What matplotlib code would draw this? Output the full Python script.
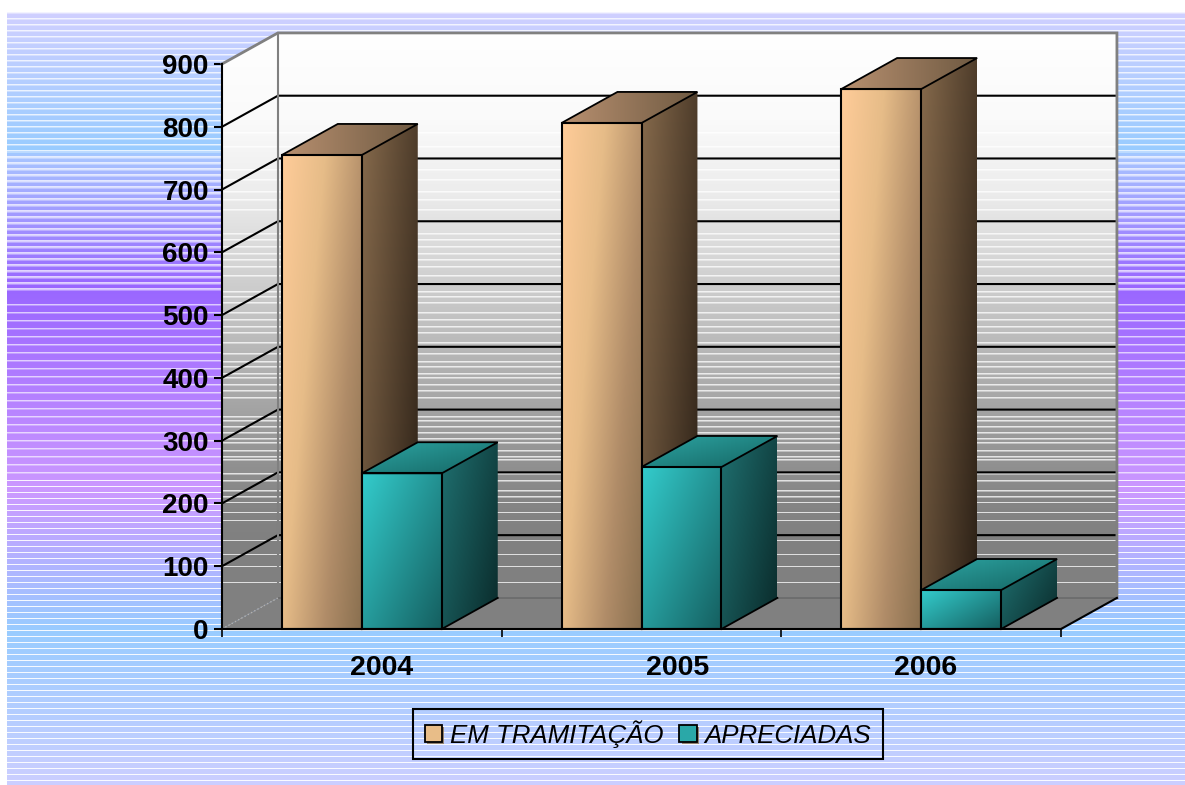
import numpy as np
from matplotlib import pyplot as plt
from matplotlib import patheffects as pe
from matplotlib.colors import to_rgb
from matplotlib.patches import Patch, Polygon

# Data
years = ['2004', '2005', '2006']
em_tramitacao = [755, 806, 860]
apreciadas = [248, 258, 62]
series_names = ['EM TRAMITAÇÃO', 'APRECIADAS']
y_ticks = [0, 100, 200, 300, 400, 500, 600, 700, 800, 900]

# Layout, pixels of the 1185x785 picture
W, H = 1185, 785
left, right, top, bottom = 222, 1061, 64, 629
depth_x, depth_y = 0.2, 49.5  # depth of the fake 3D box, in data units
bar_w = 0.286
label_x = [0.572, 1.63, 2.517]

plt.rcParams['font.family'] = ['Liberation Sans', 'DejaVu Sans']

fig = plt.figure(figsize=(W / 100, H / 100), dpi=100, facecolor='white')


def ramp(y, stops):
    ys = [s[0] for s in stops]
    rgb = np.array([to_rgb(s[1]) for s in stops])
    return np.stack([np.interp(y, ys, rgb[:, i]) for i in range(3)], axis=-1)


#region: Striped background
rows = np.arange(12, H)
bg_stops = [(12, '#d0d0ff'), (150, '#99ccff'), (156, '#a8c4ff'), (285, '#9966ff'), (330, '#a470ff'),
            (490, '#cc99ff'), (630, '#99ccff'), (785, '#cccfff')]
bg = ramp(rows, bg_stops)
for i, y in enumerate(rows):
    if y < 152:
        a = {0: 0.75, 1: 0.35}.get(y % 6, 0)
    elif y < 292:
        a = {0: 0.7, 1: 0.6, 2: 0.3}.get(y % 6, 0)
    elif y < 301:
        a = 0
    elif y < 480:
        a = {0: 0.65, 1: 0.3}.get(y % 8, 0)
    else:
        a = {0: 0.9}.get(y % 6, 0)
    bg[i] = bg[i] * (1 - a) + a
ax_bg = fig.add_axes([7 / W, 0, 1 - 7 / W, 1 - 12 / H], zorder=0)
ax_bg.imshow(bg[:, None, :], aspect='auto', interpolation='nearest')
ax_bg.axis('off')
#endregion

ax = fig.add_axes([left / W, 1 - bottom / H, (right - left) / W, (bottom - top) / H], zorder=1)
ax.patch.set_visible(False)
ax.set_xlim(0, 3)
ax.set_ylim(0, 900)


def gradient(xlo, xhi, ylo, yhi, c0_stops, ang, poly=None, z=2):
    # paint a gradient over a box, clipped to a polygon when there is one
    u, v = np.meshgrid(np.linspace(0, 1, 80), np.linspace(0, 1, 80))
    t = ang[0] * u + ang[1] * v
    im = ax.imshow(ramp(t, c0_stops), extent=(xlo, xhi, ylo, yhi), aspect='auto',
                   interpolation='bilinear', zorder=z)
    im.set_clip_box(fig.bbox)
    if poly is not None:
        clip = Polygon(poly, closed=True, facecolor='none', edgecolor='none', clip_on=False, zorder=z)
        ax.add_patch(clip)
        im.set_clip_path(clip)
    return im


#region: Walls and floor
wall_rows = np.arange(33, 630)
wall = ramp(wall_rows, [(33, '#ffffff'), (120, '#fafafa'), (190, '#ededed'), (290, '#cccccc'), (340, '#bbbbbb'),
                        (420, '#a0a0a0'), (500, '#858585'), (540, '#808080'), (629, '#808080')])
wall_stripes = [133, 147, 170, 180, 192, 200, 210, 234, 240, 247, 254, 260, 267, 276, 292, 297, 303, 313, 320, 327,
                333, 343, 354, 362, 367, 374, 378, 385, 391, 398, 417, 421, 427, 433, 439, 443, 451, 457, 460,
                474, 481, 491, 497, 503, 513, 521, 541, 555, 567, 583]
for y in wall_stripes:
    wall[y - 33] = wall[y - 33] * 0.25 + 0.75
    if y < 500:
        wall[y - 32] = wall[y - 32] * 0.6 + 0.4
wall_poly = [(0, 0), (depth_x, depth_y), (3 + depth_x, depth_y), (3 + depth_x, 900 + depth_y),
             (depth_x, 900 + depth_y), (0, 900)]
im = ax.imshow(wall[:, None, :], extent=(0, 3 + depth_x, 0, 900 + depth_y), aspect='auto',
               interpolation='nearest', zorder=1)
im.set_clip_box(fig.bbox)
clip = Polygon(wall_poly, closed=True, facecolor='none', edgecolor='none', clip_on=False, zorder=1)
ax.add_patch(clip)
im.set_clip_path(clip)
ax.set_xlim(0, 3)
ax.set_ylim(0, 900)

floor = Polygon([(0, 0), (3, 0), (3 + depth_x, depth_y), (depth_x, depth_y)], closed=True,
                facecolor='#808080', edgecolor='none', clip_on=False, zorder=1.2)
ax.add_patch(floor)

for v in y_ticks[1:-1]:
    ax.plot([0, depth_x, 3 + depth_x], [v, v + depth_y, v + depth_y], color='black', lw=1.5,
            clip_on=False, zorder=1.5, solid_joinstyle='miter')

# grey box edges
ax.plot([0, depth_x, 3 + depth_x, 3 + depth_x], [900, 900 + depth_y, 900 + depth_y, depth_y],
        color='#808080', lw=2, clip_on=False, zorder=1.6, solid_joinstyle='miter')
ax.plot([depth_x, depth_x], [depth_y, 900 + depth_y], color='#808080', lw=1.5, clip_on=False, zorder=1.6)
ax.plot([depth_x, 3 + depth_x], [depth_y, depth_y], color='#6a6a6a', lw=1.2, clip_on=False, zorder=1.6)
ax.plot([0, depth_x], [0, depth_y], color='#b0b0b0', lw=1, ls=':', clip_on=False, zorder=1.6)
ax.plot([3, 3 + depth_x], [0, depth_y], color='black', lw=1.5, clip_on=False, zorder=1.6)
#endregion

#region: Bars
orange = {'front': [(0, '#ffcc99'), (0.35, '#e6bc88'), (0.7, '#b08c68'), (1, '#8a7050')],
          'side': [(0, '#866a4c'), (1, '#2a1f15')],
          'top': [(0, '#b89070'), (1, '#6f5a42')],
          'front_ang': (0.65, 0.35), 'side_ang': (0.6, 0.4), 'top_ang': (1, 0)}
teal = {'front': [(0, '#33cccc'), (1, '#155f60')],
        'side': [(0, '#1f7070'), (1, '#0a2a2a')],
        'top': [(0, '#2da5a3'), (1, '#156664')],
        'front_ang': (0.55, 0.45), 'side_ang': (0.6, 0.4), 'top_ang': (0.5, 0.5)}


def draw_bars(xs, vals, style, z):
    bars = ax.bar(xs, vals, bar_w, align='edge', facecolor='none', edgecolor='black', lw=1.5,
                  clip_on=False, zorder=z + 0.3)
    for x, v in zip(xs, vals):
        side = [(x + bar_w, 0), (x + bar_w + depth_x, depth_y), (x + bar_w + depth_x, v + depth_y), (x + bar_w, v)]
        roof = [(x, v), (x + bar_w, v), (x + bar_w + depth_x, v + depth_y), (x + depth_x, v + depth_y)]
        gradient(x + bar_w, x + bar_w + depth_x, 0, v + depth_y, style['side'], style['side_ang'], side, z)
        gradient(x, x + bar_w + depth_x, v, v + depth_y, style['top'], style['top_ang'], roof, z)
        gradient(x, x + bar_w, 0, v, style['front'], style['front_ang'], None, z + 0.1)
        ax.add_patch(Polygon(roof, closed=True, facecolor='none', edgecolor='black', lw=1.3, clip_on=False,
                             zorder=z + 0.2))
        ax.plot([side[0][0], side[1][0]], [side[0][1], side[1][1]], color='black', lw=1.3, clip_on=False,
                zorder=z + 0.2)
    return bars


centers = np.arange(len(years)) + 0.5
draw_bars(centers - bar_w, em_tramitacao, orange, 3)
draw_bars(centers, apreciadas, teal, 4)
ax.set_xlim(0, 3)
ax.set_ylim(0, 900)
#endregion

#region: Axes
for name in ['top', 'right']:
    ax.spines[name].set_visible(False)
for name in ['left', 'bottom']:
    ax.spines[name].set_linewidth(1.5)
    ax.spines[name].set_zorder(6)
ax.set_yticks(y_ticks)
ax.set_xticks(range(len(years) + 1), labels=[''] * (len(years) + 1))
ax.set_xticks(label_x, labels=years, minor=True)
ax.tick_params(axis='y', length=6, width=1.5, pad=3.5, labelsize=20)
ax.tick_params(axis='x', which='major', length=6, width=1.2)
ax.tick_params(axis='x', which='minor', length=0, pad=18.5, labelsize=20.5)
for lab in ax.get_yticklabels() + ax.get_xticklabels(minor=True):
    lab.set_fontweight('bold')
#endregion

shadow = [pe.SimplePatchShadow(offset=(1.5, -1.5), shadow_rgbFace='#8a7050', alpha=0.8), pe.Normal()]
handles = [Patch(facecolor='#e8bd88', edgecolor='black', lw=1.3, path_effects=shadow),
           Patch(facecolor='#2aa8a8', edgecolor='black', lw=1.3, path_effects=shadow)]
leg = ax.legend(handles, series_names, ncol=2, loc='center', bbox_to_anchor=(648 / W, 1 - 734 / H),
                bbox_transform=fig.transFigure, frameon=True, fancybox=False,
                prop={'style': 'italic', 'size': 18.6}, handlelength=0.68, handleheight=0.62, handletextpad=0.3,
                columnspacing=0.62, borderpad=0.45, borderaxespad=0)
frame = leg.get_frame()
frame.set_alpha(None)
frame.set_facecolor('none')
frame.set_edgecolor('black')
frame.set_linewidth(1.5)
leg.set_zorder(10)

fig.savefig('out.png', dpi=100)
